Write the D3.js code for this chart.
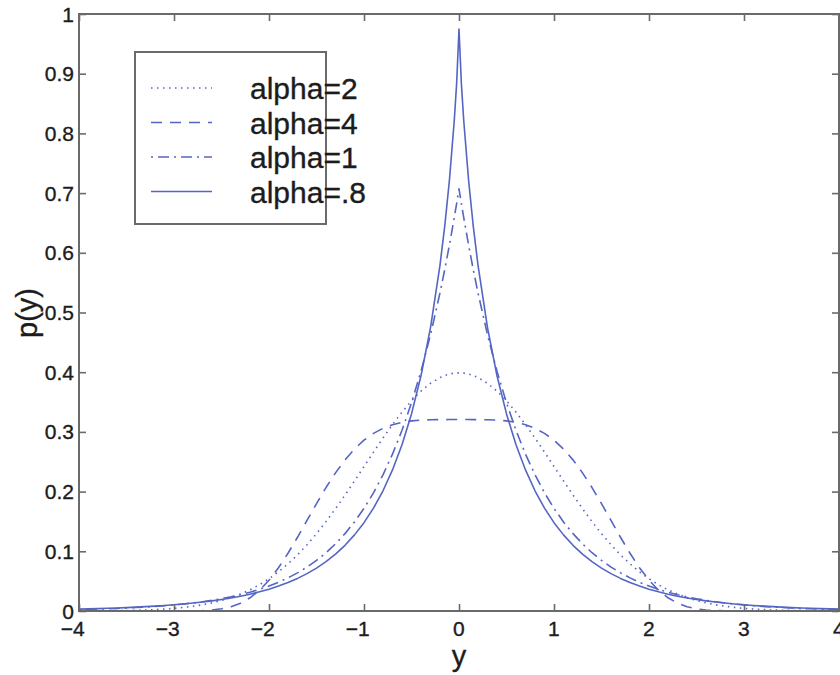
<!DOCTYPE html>
<html>
<head>
<meta charset="utf-8">
<script src="https://cdn.jsdelivr.net/npm/d3@7"></script>
<style>
  html, body { margin: 0; padding: 0; background: #fff; }
  svg { display: block; }
  text { stroke: #1c1c1c; stroke-width: 0.35px; }
</style>
</head>
<body>
<svg id="chart" width="840" height="675"></svg>
<script>
// Sample positions along y (denser near 0 to follow the sharp peaks)
const ys = [-4,-3.9,-3.8,-3.7,-3.6,-3.5,-3.4,-3.3,-3.2,-3.1,-3,-2.9,-2.8,-2.7,-2.6,-2.5,-2.4,-2.3,-2.2,-2.1,
  -2,-1.9,-1.8,-1.7,-1.6,-1.5,-1.4,-1.3,-1.2,-1.1,-1,-0.9,-0.8,-0.7,-0.6,-0.5,-0.4,-0.3,-0.2,-0.15,-0.1,-0.05,-0.025,
  0,
  0.025,0.05,0.1,0.15,0.2,0.3,0.4,0.5,0.6,0.7,0.8,0.9,1,1.1,1.2,1.3,1.4,1.5,1.6,1.7,1.8,1.9,
  2,2.1,2.2,2.3,2.4,2.5,2.6,2.7,2.8,2.9,3,3.1,3.2,3.3,3.4,3.5,3.6,3.7,3.8,3.9,4];

// p(y) for alpha = 2
const pAlpha2 = [.0001,.0002,.0003,.0004,.0006,.0009,.0012,.0017,.0024,.0033,.0044,.0060,.0079,.0104,.0136,.0175,.0224,.0283,.0355,.0440,
  .0540,.0656,.0790,.0940,.1109,.1295,.1497,.1714,.1942,.2179,.2420,.2661,.2897,.3123,.3332,.3521,.3683,.3814,.3910,.3945,.3970,.3984,.3988,
  .3989,
  .3988,.3984,.3970,.3945,.3910,.3814,.3683,.3521,.3332,.3123,.2897,.2661,.2420,.2179,.1942,.1714,.1497,.1295,.1109,.0940,.0790,.0656,
  .0540,.0440,.0355,.0283,.0224,.0175,.0136,.0104,.0079,.0060,.0044,.0033,.0024,.0017,.0012,.0009,.0006,.0004,.0003,.0002,.0001];

// p(y) for alpha = 4
const pAlpha4 = [0,0,0,0,0,0,0,0,0,0,0,.0001,.0003,.0007,.0017,.0037,.0072,.0131,.0221,.0348,
  .0516,.0724,.0967,.1235,.1517,.1799,.2068,.2314,.2531,.2713,.2861,.2975,.3060,.3120,.3160,.3184,.3198,.3204,.3206,.3206,.3207,.3207,.3207,
  .3207,
  .3207,.3207,.3207,.3206,.3206,.3204,.3198,.3184,.3160,.3120,.3060,.2975,.2861,.2713,.2531,.2314,.2068,.1799,.1517,.1235,.0967,.0724,
  .0516,.0348,.0221,.0131,.0072,.0037,.0017,.0007,.0003,.0001,0,0,0,0,0,0,0,0,0,0,0];

// p(y) for alpha = 1
const pAlpha1 = [.0025,.0028,.0033,.0038,.0043,.0050,.0058,.0066,.0077,.0088,.0102,.0117,.0135,.0155,.0179,.0206,.0237,.0273,.0315,.0363,
  .0418,.0481,.0555,.0639,.0736,.0848,.0976,.1125,.1296,.1492,.1719,.1980,.2281,.2628,.3027,.3487,.4016,.4626,.5329,.5720,.6139,.6588,.6825,
  .7071,
  .6825,.6588,.6139,.5720,.5329,.4626,.4016,.3487,.3027,.2628,.2281,.1980,.1719,.1492,.1296,.1125,.0976,.0848,.0736,.0639,.0555,.0481,
  .0418,.0363,.0315,.0273,.0237,.0206,.0179,.0155,.0135,.0117,.0102,.0088,.0077,.0066,.0058,.0050,.0043,.0038,.0033,.0028,.0025];

// p(y) for alpha = .8
const pAlpha08 = [.0032,.0036,.0040,.0045,.0051,.0057,.0065,.0073,.0082,.0092,.0104,.0117,.0133,.0150,.0170,.0193,.0219,.0248,.0282,.0321,
  .0366,.0417,.0477,.0546,.0626,.0719,.0826,.0953,.1100,.1275,.1480,.1723,.2014,.2363,.2785,.3301,.3941,.4748,.5795,.6448,.7231,.8211,.8833,
  .9749,
  .8833,.8211,.7231,.6448,.5795,.4748,.3941,.3301,.2785,.2363,.2014,.1723,.1480,.1275,.1100,.0953,.0826,.0719,.0626,.0546,.0477,.0417,
  .0366,.0321,.0282,.0248,.0219,.0193,.0170,.0150,.0133,.0117,.0104,.0092,.0082,.0073,.0065,.0057,.0051,.0045,.0040,.0036,.0032];

const seriesNames = ["alpha=2", "alpha=4", "alpha=1", "alpha=.8"];
const xTicks = [-4, -3, -2, -1, 0, 1, 2, 3, 4];
const yTicks = [0, 0.1, 0.2, 0.3, 0.4, 0.5, 0.6, 0.7, 0.8, 0.9, 1];

const series = [
  { name: seriesNames[0], values: pAlpha2, dash: "1.5,4.5" },
  { name: seriesNames[1], values: pAlpha4, dash: "11,8" },
  { name: seriesNames[2], values: pAlpha1, dash: "2,5,11,5" },
  { name: seriesNames[3], values: pAlpha08, dash: null }
];

const lineColor = "#5565c4";
const axisColor = "#6a6a6a";
const textColor = "#1c1c1c";
const font = "Arial, 'Liberation Sans', sans-serif";

const svg = d3.select("#chart");
const plotLeft = 79, plotRight = 839, plotTop = 14, plotBottom = 611;

const x = d3.scaleLinear().domain([-4, 4]).range([plotLeft, plotRight]);
const y = d3.scaleLinear().domain([0, 1]).range([plotBottom, plotTop]);

// Curves
const line = d3.line().x((d, i) => x(ys[i])).y(d => y(d));
series.forEach(s => {
  svg.append("path")
    .datum(s.values)
    .attr("d", line)
    .attr("fill", "none")
    .attr("stroke", lineColor)
    .attr("stroke-width", 1.6)
    .attr("stroke-dasharray", s.dash)
    .attr("stroke-linejoin", "round");
});

// Axes with inward ticks on all four sides
const tickLen = 7;
const axisStyle = g => {
  g.select(".domain").remove();
  g.selectAll(".tick line").attr("stroke", axisColor).attr("stroke-width", 1.6);
};

svg.append("g").attr("transform", `translate(0,${plotBottom})`)
  .call(d3.axisBottom(x).tickValues(xTicks).tickSizeInner(-tickLen).tickSizeOuter(0).tickFormat(""))
  .call(axisStyle);
svg.append("g").attr("transform", `translate(0,${plotTop})`)
  .call(d3.axisTop(x).tickValues(xTicks).tickSizeInner(-tickLen).tickSizeOuter(0).tickFormat(""))
  .call(axisStyle);
svg.append("g").attr("transform", `translate(${plotLeft},0)`)
  .call(d3.axisLeft(y).tickValues(yTicks).tickSizeInner(-tickLen).tickSizeOuter(0).tickFormat(""))
  .call(axisStyle);
svg.append("g").attr("transform", `translate(${plotRight},0)`)
  .call(d3.axisRight(y).tickValues(yTicks).tickSizeInner(-tickLen).tickSizeOuter(0).tickFormat(""))
  .call(axisStyle);

// Frame
svg.append("rect")
  .attr("x", plotLeft).attr("y", plotTop)
  .attr("width", plotRight - plotLeft).attr("height", plotBottom - plotTop)
  .attr("fill", "none").attr("stroke", axisColor).attr("stroke-width", 2);

// X tick labels (digit centred on the tick, minus sign hanging left)
svg.append("g").selectAll("text").data(xTicks).join("text")
  .attr("x", d => x(d) + 5.8)
  .attr("y", 636)
  .attr("text-anchor", "end")
  .attr("font-family", font).attr("font-size", 21).attr("fill", textColor)
  .text(d => d < 0 ? "\u2212" + Math.abs(d) : String(d));

// Y tick labels
svg.append("g").selectAll("text").data(yTicks).join("text")
  .attr("x", plotLeft - 5)
  .attr("y", d => y(d) + 7.5)
  .attr("text-anchor", "end")
  .attr("font-family", font).attr("font-size", 21).attr("fill", textColor)
  .text(d => d === 0 || d === 1 ? String(d) : d3.format(".1f")(d));

// Axis titles
svg.append("text")
  .attr("x", x(0)).attr("y", 666)
  .attr("text-anchor", "middle")
  .attr("font-family", font).attr("font-size", 29).attr("fill", textColor)
  .text("y");
svg.append("text")
  .attr("transform", `translate(37,313) rotate(-90)`)
  .attr("text-anchor", "middle")
  .attr("font-family", font).attr("font-size", 29).attr("fill", textColor)
  .text("p(y)");

// Legend
const legend = svg.append("g");
legend.append("rect")
  .attr("x", 135).attr("y", 52).attr("width", 191).attr("height", 172)
  .attr("fill", "#fff").attr("stroke", axisColor).attr("stroke-width", 2);
series.forEach((s, i) => {
  const ly = 88 + i * 34.5;
  legend.append("line")
    .attr("x1", 151).attr("x2", 212).attr("y1", ly).attr("y2", ly)
    .attr("stroke", lineColor).attr("stroke-width", 1.6)
    .attr("stroke-dasharray", s.dash);
  legend.append("text")
    .attr("x", 250).attr("y", ly + 11)
    .attr("font-family", font).attr("font-size", 30).attr("fill", textColor)
    .text(s.name);
});
</script>
</body>
</html>
